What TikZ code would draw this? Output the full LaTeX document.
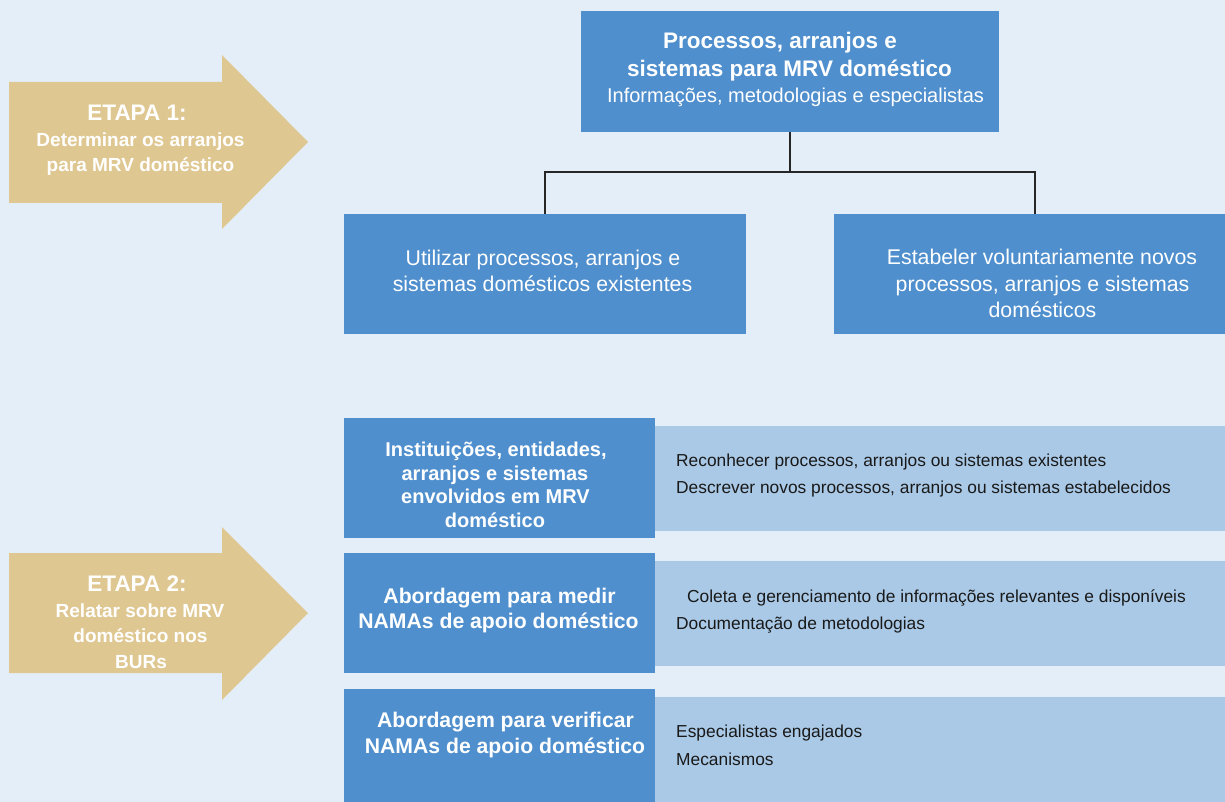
\documentclass[tikz,border=0pt]{standalone}
\usepackage{fontspec}
\setmainfont{Liberation Sans}
\definecolor{pagebg}{RGB}{228,238,248}
\definecolor{boxblue}{RGB}{79,143,205}
\definecolor{stripblue}{RGB}{170,201,230}
\definecolor{stepgold}{RGB}{223,199,145}
\definecolor{linkgray}{RGB}{38,38,38}
\definecolor{notetext}{RGB}{25,25,25}
\newcommand{\fs}[1]{\fontsize{#1}{#1}\selectfont}
\begin{document}
\begin{tikzpicture}[x=1pt,y=-1pt,
  panel/.style={fill=boxblue, inner sep=0pt, outer sep=0pt, anchor=north west},
  strip/.style={fill=stripblue, inner sep=0pt, outer sep=0pt, anchor=north west},
  txt/.style={inner sep=0pt, anchor=base, text=white},
  head/.style={txt, font=\bfseries},
  plain/.style={txt},
  note/.style={inner sep=0pt, anchor=base west, text=notetext, font=\fs{17.35}},
  link/.style={draw=linkgray, line width=1.5pt},
  steparrow/.style={fill=stepgold}]

% page
\fill[pagebg] (0,0) rectangle (1225,802);
\useasboundingbox (0,0) rectangle (1225,802);
\clip (0,0) rectangle (1225,802);

% step arrows
\fill[steparrow] (9,82) -- (222,82) -- (222,55) -- (308,142) -- (222,229) -- (222,203) -- (9,203) -- cycle;
\fill[steparrow] (9,553) -- (222,553) -- (222,527) -- (308,613) -- (222,700) -- (222,673) -- (9,673) -- cycle;

\node[head, font=\bfseries\fs{22.5}] (e1a) at (137,121) {ETAPA 1:};
\node[head, font=\bfseries\fs{19}] (e1b) at (140.5,147) {Determinar os arranjos};
\node[head, font=\bfseries\fs{19}] (e1c) at (140.5,172) {para MRV doméstico};

\node[head, font=\bfseries\fs{22.5}] (e2a) at (137,591) {ETAPA 2:};
\node[head, font=\bfseries\fs{19}] (e2b) at (140,617) {Relatar sobre MRV};
\node[head, font=\bfseries\fs{19}] (e2c) at (140.5,642) {doméstico nos};
\node[head, font=\bfseries\fs{19}] (e2d) at (141,668) {BURs};

% upper tree
\node[panel, minimum width=418pt, minimum height=121pt] (top) at (581,11) {};
\node[panel, minimum width=402pt, minimum height=120pt] (left) at (344,214) {};
\node[panel, minimum width=416pt, minimum height=120pt] (right) at (834,214) {};

\node[head, font=\bfseries\fs{22.5}] (t1) at (780,49) {Processos, arranjos e};
\node[head, font=\bfseries\fs{22.5}] (t2) at (789.5,77) {sistemas para MRV doméstico};
\node[plain, font=\fs{20}] (t3) at (795.5,103) {Informações, metodologias e especialistas};

\node[plain, font=\fs{21.3}] (l1) at (543,265.5) {Utilizar processos, arranjos e};
\node[plain, font=\fs{21.3}] (l2) at (542.5,291.5) {sistemas domésticos existentes};

\node[plain, font=\fs{21.3}] (r1) at (1042,264.5) {Estabeler voluntariamente novos};
\node[plain, font=\fs{21.3}] (r2) at (1042.5,291) {processos, arranjos e sistemas};
\node[plain, font=\fs{21.3}] (r3) at (1042.5,317) {domésticos};

\coordinate (bus) at (790,172);
\coordinate (rdrop) at ([xshift=201pt]right.north west);
\draw[link] (top.south) -- (bus);
\draw[link] (left.north) |- (bus) -| (rdrop);

% reporting rows
\node[strip, minimum width=570pt, minimum height=105pt] (sa) at (655,426) {};
\node[strip, minimum width=570pt, minimum height=105pt] (sb) at (655,561) {};
\node[strip, minimum width=570pt, minimum height=105pt] (sc) at (655,697) {};

\node[panel, minimum width=311pt, minimum height=120pt] (ba) at (344,418) {};
\node[panel, minimum width=311pt, minimum height=120pt] (bb) at (344,553) {};
\node[panel, minimum width=311pt, minimum height=113pt] (bc) at (344,689) {};

\node[head, font=\bfseries\fs{20}] (a1) at (496,456) {Instituições, entidades,};
\node[head, font=\bfseries\fs{20}] (a2) at (495,480) {arranjos e sistemas};
\node[head, font=\bfseries\fs{20}] (a3) at (495.5,503.5) {envolvidos em MRV};
\node[head, font=\bfseries\fs{20}] (a4) at (495,527) {doméstico};

\node[head, font=\bfseries\fs{21.2}] (b1) at (499.5,603) {Abordagem para medir};
\node[head, font=\bfseries\fs{21.2}] (b2) at (498.5,628) {NAMAs de apoio doméstico};

\node[head, font=\bfseries\fs{21.2}] (c1) at (505.5,727.5) {Abordagem para verificar};
\node[head, font=\bfseries\fs{21.2}] (c2) at (505,753) {NAMAs de apoio doméstico};

\node[note] (na1) at (676,466) {Reconhecer processos, arranjos ou sistemas existentes};
\node[note] (na2) at (676,493) {Descrever novos processos, arranjos ou sistemas estabelecidos};
\node[note] (nb1) at (687,602) {Coleta e gerenciamento de informações relevantes e disponíveis};
\node[note] (nb2) at (676,629) {Documentação de metodologias};
\node[note] (nc1) at (676,737) {Especialistas engajados};
\node[note] (nc2) at (676,765) {Mecanismos};
\end{tikzpicture}
\end{document}
